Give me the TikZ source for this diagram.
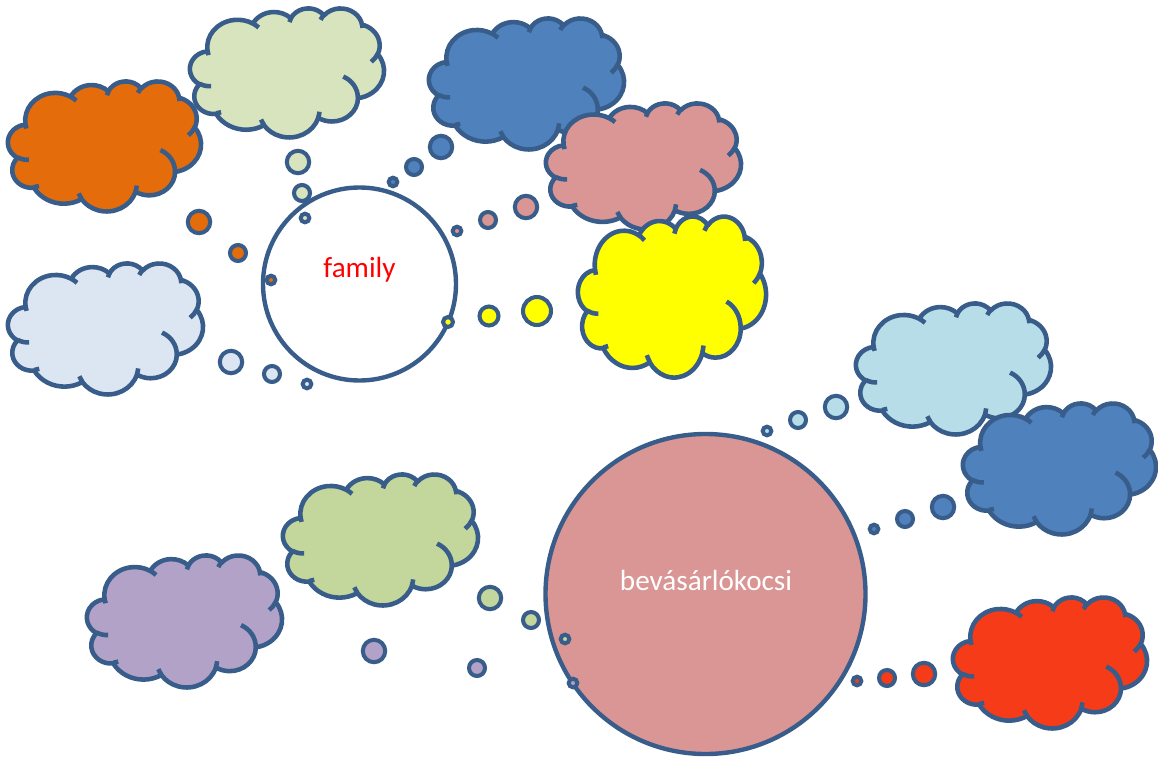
\documentclass[tikz,border=0pt]{standalone}
\usepackage{fontspec}
\setmainfont{Carlito}
\definecolor{edge}{HTML}{385D8A}
\definecolor{orangeC}{HTML}{E46C0A}
\definecolor{sageC}{HTML}{D7E4BD}
\definecolor{mistC}{HTML}{DCE6F2}
\definecolor{blueC}{HTML}{4F81BD}
\definecolor{roseC}{HTML}{D99694}
\definecolor{yellowC}{HTML}{FFFF00}
\definecolor{skyC}{HTML}{B7DEE8}
\definecolor{redC}{HTML}{F53B17}
\definecolor{greenC}{HTML}{C3D69B}
\definecolor{lilacC}{HTML}{B3A2C7}
\newcommand{\arcto}[4]{arc[x radius=#1, y radius=#2, start angle={atan2(#1*sin(#3),#2*cos(#3))}, delta angle={mod(atan2(#1*sin(#3+#4),#2*cos(#3+#4))-atan2(#1*sin(#3),#2*cos(#3))+720,360)}]}
% cloud: fill, left, top, right, bottom
\newcommand{\cloud}[5]{%
  \begin{scope}[shift={(#2+1,#3+1)}, xscale={(#4-#2-2)/43.2}, yscale={(#5-#3-2)/43.2}]
    \draw[cloudline, fill=#1] (3.9,14.37) \arcto{6.753}{9.19}{-190.48748}{123.78053} \arcto{5.333}{7.267}{-144.10238}{89.94523}
      \arcto{4.365}{5.945}{-145.80792}{99.72302} \arcto{4.857}{6.595}{-130.98607}{117.24173} \arcto{5.333}{7.273}{-78.70888}{109.02692}
      \arcto{6.775}{9.22}{-46.26725}{130.269} \arcto{5.785}{7.867}{0.62502}{114.03333} \arcto{6.752}{9.215}{22.4516}{115.17255}
      \arcto{7.72}{10.543}{66.24263}{75.71102} \arcto{4.36}{5.918}{-274.94208}{146.73557} \arcto{4.345}{5.945}{-246.8285}{152.51885} -- cycle;
    \draw[cloudline] (4.693,26.177) \arcto{4.345}{5.945}{86.742}{26.4295} (6.928,34.899) \arcto{4.36}{5.918}{73.61047}{11.44747}
      (16.478,39.09) \arcto{6.752}{9.215}{137.62415}{14.0811} (28.827,34.751) \arcto{6.752}{9.215}{6.45327}{15.99835}
      (34.129,22.954) \arcto{5.785}{7.867}{-70.29235}{70.91737} (41.798,15.354) \arcto{5.333}{7.273}{30.31803}{27.7515}
      (38.324,5.426) \arcto{4.857}{6.595}{-13.74433}{14.8589} (29.078,3.952) \arcto{4.857}{6.595}{-149.18145}{18.19537}
      (22.141,4.72) \arcto{4.365}{5.945}{-163.49427}{17.68635} (14,5.192) \arcto{6.753}{9.19}{-66.70695}{12.31935}
      (4.127,15.789) \arcto{6.753}{9.19}{157.65435}{11.85817};
  \end{scope}}

\begin{document}
\begin{tikzpicture}[x=0.02cm, y=-0.02cm,
    cloudline/.style={draw=edge, line width=2.6pt, line join=round},
    ring/.style={draw=edge, line width=2.5pt},
    bubble/.style={draw=edge, line width=2.3pt},
    label/.style={anchor=base, font=\fontsize{16.6}{20}\selectfont}]
  \useasboundingbox (0,0) rectangle (1158,760);
  % clouds
  \cloud{orangeC}{7}{80}{202}{212}
  \cloud{sageC}{189}{7}{385}{138}
  \cloud{mistC}{7}{262}{204}{395}
  \cloud{blueC}{428}{17}{625}{150}
  \cloud{roseC}{545}{102}{742}{230}
  \cloud{yellowC}{577}{215}{767}{378}
  \cloud{skyC}{855}{302}{1052}{435}
  \cloud{blueC}{962}{402}{1157}{535}
  \cloud{redC}{952}{596}{1148}{729}
  \cloud{greenC}{282}{473}{479}{606}
  \cloud{lilacC}{86}{554}{283}{688}
  % the two circles
  \draw[ring, fill=white] (359.5,284) circle[radius=96.5];
  \node[label, text=red] (family) at (359.5,277) {family};
  \draw[ring, fill=roseC] (705.5,594) circle[radius=160];
  \node[label, text=white] (kocsi) at (706,590) {bevásárlókocsi};
  % thought bubbles
  \foreach \x/\y/\r/\c in {199/222/11.2/orangeC, 238/253/8/orangeC, 271/280/4.3/orangeC,
      298/162/11.2/sageC, 302/193/8/sageC, 305/218/4.3/sageC,
      441/147/11.2/blueC, 414/167/8/blueC, 393/182/4.3/blueC,
      526/207/11.2/roseC, 488/220/8/roseC, 457/231/4.3/roseC,
      537/311/14/yellowC, 489/316/9.5/yellowC, 448/322/5/yellowC,
      231/362/11.2/mistC, 272/374/8/mistC, 307/384/4.3/mistC,
      836/407/11.2/skyC, 798/420/8/skyC, 767/431/4.3/skyC,
      943/507/11.2/blueC, 905/519/8/blueC, 874/529/4.3/blueC,
      924/674/11.2/redC, 887/678/8/redC, 857/681/4.3/redC,
      490/598/11.2/greenC, 531/620/8/greenC, 565/639/4.3/greenC,
      374/651/11.2/lilacC, 477/668/8/lilacC, 573/683/4.3/lilacC}
    \draw[bubble, fill=\c] (\x,\y) circle[radius=\r];
\end{tikzpicture}
\end{document}
